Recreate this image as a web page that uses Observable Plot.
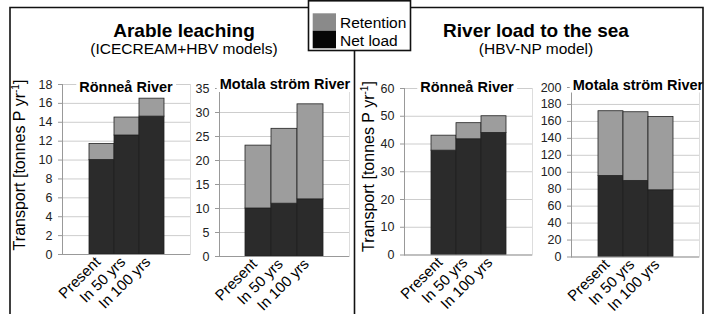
<!DOCTYPE html>
<html>
<head>
<meta charset="utf-8">
<script src="https://cdn.jsdelivr.net/npm/d3@7"></script>
<script src="https://cdn.jsdelivr.net/npm/@observablehq/plot@0.6"></script>
<style>
  html, body { margin: 0; padding: 0; background: #fff; }
  #chart { position: relative; width: 710px; height: 314px; overflow: hidden; background: #fff; font-family: "Liberation Sans", Arial, sans-serif; }
  #chart > svg { position: absolute; left: 0; top: 0; }
</style>
</head>
<body>
<div id="chart"></div>
<script>
// ---- data ----
const categories = ["Present", "In 50 yrs", "In 100 yrs"];
const seriesNames = ["Net load", "Retention"];

// Arable leaching (ICECREAM+HBV models)
const ronneaLeachNet = [10.0, 12.6, 14.6];
const ronneaLeachRet = [1.7, 1.9, 1.9];
const motalaLeachNet = [10.0, 11.0, 11.9];
const motalaLeachRet = [13.1, 15.6, 19.8];
// River load to the sea (HBV-NP model)
const ronneaSeaNet = [37.6, 41.7, 44.0];
const ronneaSeaRet = [5.4, 5.8, 6.0];
const motalaSeaNet = [95.6, 89.8, 78.7];
const motalaSeaRet = [76.4, 81.0, 86.6];

const ticksRonneaLeach = [0, 2, 4, 6, 8, 10, 12, 14, 16, 18];
const ticksMotalaLeach = [0, 5, 10, 15, 20, 25, 30, 35];
const ticksRonneaSea = [0, 10, 20, 30, 40, 50, 60];
const ticksMotalaSea = [0, 20, 40, 60, 80, 100, 120, 140, 160, 180, 200];

const mainTitles = ["Arable leaching", "River load to the sea"];
const subTitles = ["(ICECREAM+HBV models)", "(HBV-NP model)"];
const panelTitles = ["Rönneå River", "Motala ström River", "Rönneå River", "Motala ström River"];

const colors = {"Net load": "#2b2b2b", "Retention": "#9d9d9d"};
const W = 710, H = 314;

function rows(net, ret) {
  const out = [];
  categories.forEach((c, i) => {
    out.push({cat: c, series: "Net load", value: net[i]});
    out.push({cat: c, series: "Retention", value: ret[i]});
  });
  return out;
}

function panel({net, ret, ticks, left, right, top, bottom}) {
  const data = rows(net, ret);
  return Plot.plot({
    width: W, height: H,
    marginLeft: left, marginRight: W - right, marginTop: top, marginBottom: H - bottom,
    style: {background: "transparent", overflow: "visible", fontFamily: "Liberation Sans, Arial, sans-serif", fontSize: "12px"},
    x: {domain: categories, paddingInner: 0, paddingOuter: 1},
    y: {domain: [0, ticks[ticks.length - 1]]},
    color: {domain: seriesNames, range: seriesNames.map(s => colors[s])},
    marks: [
      Plot.gridY(ticks, {stroke: "#cdcdcd", strokeOpacity: 1}),
      Plot.frame({anchor: "right", stroke: "#dddddd"}),
      Plot.barY(data, {x: "cat", y: "value", fill: "series", stroke: "#222", strokeWidth: 0.8, order: seriesNames}),
      Plot.ruleY([0], {stroke: "#999"}),
      Plot.frame({anchor: "left", stroke: "#999"}),
      Plot.axisY(ticks, {tickSize: 4, tickPadding: 6, fontSize: 12.5, fill: "#222", stroke: "#999", label: null}),
      Plot.axisX({tickSize: 0, tickPadding: 5, tickRotate: -45, textAnchor: "end", lineAnchor: "middle", dx: -4, fontSize: 15, fill: "#000", label: null})
    ]
  });
}

const chart = document.getElementById("chart");
chart.appendChild(panel({net: ronneaLeachNet, ret: ronneaLeachRet, ticks: ticksRonneaLeach, left: 62, right: 190, top: 84, bottom: 254}));
chart.appendChild(panel({net: motalaLeachNet, ret: motalaLeachRet, ticks: ticksMotalaLeach, left: 219, right: 349, top: 88, bottom: 256}));
chart.appendChild(panel({net: ronneaSeaNet, ret: ronneaSeaRet, ticks: ticksRonneaSea, left: 404, right: 532, top: 88, bottom: 254.5}));
chart.appendChild(panel({net: motalaSeaNet, ret: motalaSeaRet, ticks: ticksMotalaSea, left: 571, right: 699, top: 87, bottom: 256.5}));

// ---- overlay: frame, titles, legend, axis titles ----
const svg = d3.create("svg").attr("width", W).attr("height", H)
  .style("font-family", "Liberation Sans, Arial, sans-serif");

// panel titles with white background
const pt = [
  {x: 126, y: 91.5}, {x: 285, y: 89}, {x: 467, y: 92}, {x: 638, y: 89.5}
];
pt.forEach((p, i) => {
  svg.append("text").attr("x", p.x).attr("y", p.y).attr("text-anchor", "middle")
    .attr("font-size", 14.5).attr("font-weight", "bold").attr("fill", "#000").text(panelTitles[i]);
});
chart.appendChild(svg.node());
// white boxes behind panel titles (inserted before text)
svg.selectAll("text").each(function() {
  const b = this.getBBox();
  svg.insert("rect", () => this).attr("x", b.x - 3).attr("y", b.y - 1).attr("width", b.width + 6).attr("height", b.height + 1).attr("fill", "#fff");
});

// frame
const frame = svg.append("g").attr("stroke", "#111").attr("stroke-width", 1.6).attr("fill", "none");
frame.append("path").attr("d", "M10,314V7.5H703V314");
frame.append("line").attr("x1", 354.5).attr("x2", 354.5).attr("y1", 50).attr("y2", 314);

// main titles
[[184, mainTitles[0], subTitles[0]], [536, mainTitles[1], subTitles[1]]].forEach(([x, t, s]) => {
  svg.append("text").attr("x", x).attr("y", 37).attr("text-anchor", "middle").attr("font-size", 19).attr("font-weight", "bold").text(t);
  svg.append("text").attr("x", x).attr("y", 54).attr("text-anchor", "middle").attr("font-size", 15.5).text(s);
});

// legend
const lg = svg.append("g");
lg.append("rect").attr("x", 308.5).attr("y", 0.8).attr("width", 102).attr("height", 49.7).attr("fill", "#fff").attr("stroke", "#111").attr("stroke-width", 1.6);
lg.append("rect").attr("x", 312.7).attr("y", 13.3).attr("width", 23.3).attr("height", 17.4).attr("fill", "#8a8a8a");
lg.append("rect").attr("x", 312.7).attr("y", 30.7).attr("width", 23.3).attr("height", 17.6).attr("fill", "#060606");
lg.append("text").attr("x", 340).attr("y", 28.3).attr("font-size", 15.5).text(seriesNames[1]);
lg.append("text").attr("x", 340).attr("y", 46).attr("font-size", 15.5).text(seriesNames[0]);

// y axis titles
[[25, 165], [373.5, 166.5]].forEach(([x, y]) => {
  const t = svg.append("text").attr("transform", `translate(${x},${y}) rotate(-90)`).attr("text-anchor", "middle").attr("font-size", 16).attr("fill", "#000");
  t.append("tspan").text("Transport [tonnes P yr");
  t.append("tspan").attr("font-size", 10).attr("dy", -6).text("-1");
  t.append("tspan").attr("dy", 6).text("]");
});
</script>
</body>
</html>
